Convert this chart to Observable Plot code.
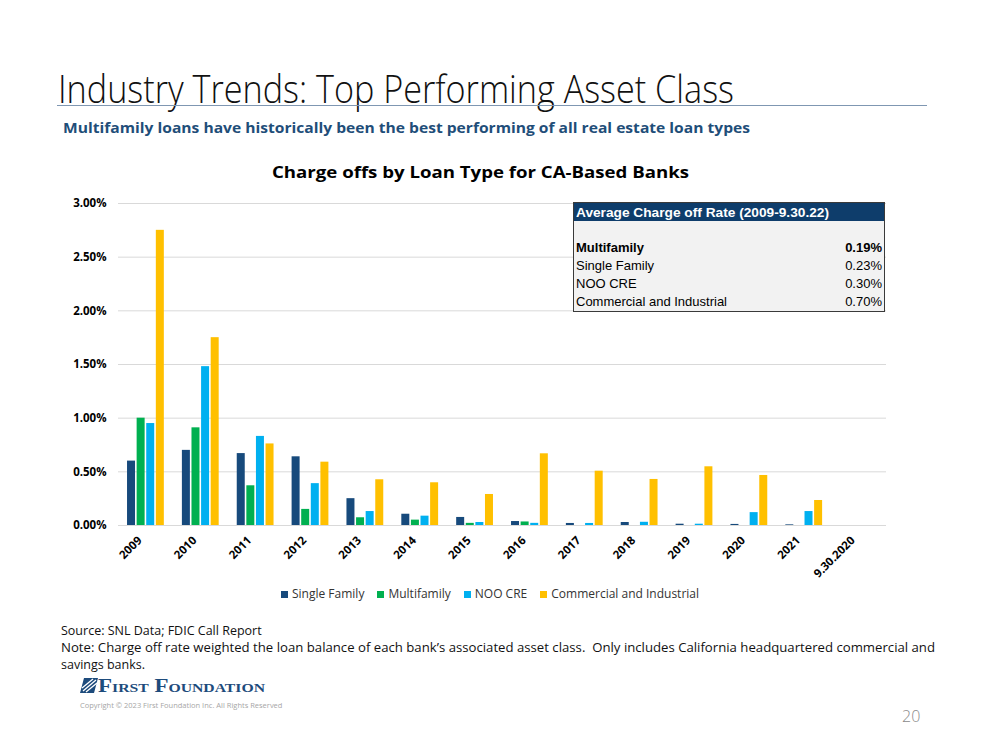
<!DOCTYPE html>
<html><head><meta charset="utf-8">
<script src="https://cdn.jsdelivr.net/npm/d3@7"></script>
<script src="https://cdn.jsdelivr.net/npm/@observablehq/plot@0.6"></script>
<style>
body{margin:0;background:#fff;}
#page{position:relative;width:999px;height:750px;overflow:hidden;font-family:"Open Sans",sans-serif;color:#000;background:#fff;}
.abs{position:absolute;white-space:nowrap;line-height:1;}
#title{left:58px;top:69px;font-size:38px;font-weight:300;color:#111;}
#rule{left:57px;top:105px;width:870px;height:0;border-top:1.5px solid #7f97b2;}
#subtitle{left:63px;top:120px;font-size:15px;font-weight:700;color:#1f4e79;}
#ctitle{left:272px;top:164px;font-size:16.5px;font-weight:700;color:#000;}
#chart{position:absolute;left:0;top:190px;}
#table{position:absolute;left:573px;top:202px;width:310px;height:108px;border:1px solid #3a3a3a;background:#f2f2f2;font-family:"Liberation Sans",Arial,sans-serif;font-size:13px;}
#thead{position:absolute;left:0;top:0;width:310px;height:18px;background:#0e3d6b;}
#thead span{position:absolute;left:2px;top:3px;color:#fff;font-weight:700;font-size:13px;white-space:nowrap;line-height:1;transform-origin:left top;}
.trow{position:absolute;left:0;width:310px;height:18px;}
.trow .l{position:absolute;left:2px;top:1px;white-space:nowrap;}
.trow .v{position:absolute;right:2px;top:1px;white-space:nowrap;}
#legend{position:absolute;left:281px;top:587px;display:flex;font-size:12px;color:#333;line-height:14px;}
#legend .item{display:flex;align-items:center;margin-right:13px;}
#legend .sw{width:7px;height:7px;margin-right:4px;}
.foot{font-size:12.5px;color:#111;}
#logo{left:80px;top:678px;}
#logotext{left:98px;top:676px;font-family:"Liberation Serif","DejaVu Serif",serif;font-weight:700;font-variant:small-caps;font-size:19px;color:#1d4b7c;}
#copy{left:80px;top:702px;font-size:7.5px;color:#a6a6a6;}
#pnum{left:902px;top:708px;font-size:16px;color:#8a8a8a;font-weight:300;}
</style></head>
<body><div id="page">
<div id="title" class="abs">Industry Trends: Top Performing Asset Class</div>
<div id="rule" class="abs"></div>
<div id="subtitle" class="abs">Multifamily loans have historically been the best performing of all real estate loan types</div>
<div id="ctitle" class="abs">Charge offs by Loan Type for CA-Based Banks</div>
<div id="chart"></div>
<div id="table"></div>
<div id="legend"></div>
<div id="src" class="abs foot" style="left:61px;top:625px;">Source: SNL Data; FDIC Call Report</div>
<div id="note1" class="abs foot" style="left:61px;top:642px;">Note: Charge off rate weighted the loan balance of each bank’s associated asset class.&nbsp; Only includes California headquartered commercial and</div>
<div id="note2" class="abs foot" style="left:61px;top:659px;">savings banks.</div>
<svg id="logo" class="abs" width="18" height="15" viewBox="0 0 18 15">
  <polygon points="4,0 18,0 14,15 0,15" fill="#1d4b7c"/>
  <path d="M3,13 L16,2 M2,10 L13,1 M6,14 L17,5" stroke="#fff" stroke-width="1.3"/>
</svg>
<div id="logotext" class="abs">First Foundation</div>
<div id="copy" class="abs">Copyright © 2023 First Foundation Inc. All Rights Reserved</div>
<div id="pnum" class="abs">20</div>
</div>
<script>
// ---- data ----
const years = ["2009","2010","2011","2012","2013","2014","2015","2016","2017","2018","2019","2020","2021","9.30.2020"];
const seriesNames = ["Single Family","Multifamily","NOO CRE","Commercial and Industrial"];
const seriesColors = ["#174a7c","#00b050","#00b0f0","#ffc000"];
const singleFamily = [0.60,0.70,0.67,0.64,0.25,0.105,0.075,0.037,0.019,0.028,0.012,0.010,0.006,0];
const multifamily = [1.00,0.91,0.37,0.15,0.072,0.05,0.02,0.033,0,0,0,0,0,0];
const nooCre = [0.95,1.48,0.83,0.39,0.13,0.087,0.028,0.02,0.019,0.03,0.012,0.12,0.13,0];
const commercialIndustrial = [2.75,1.75,0.76,0.59,0.426,0.398,0.289,0.668,0.506,0.429,0.547,0.466,0.233,0];
const yTicks = [0,0.5,1,1.5,2,2.5,3];
const tableTitle = "Average Charge off Rate (2009-9.30.22)";
const tableLabels = ["Multifamily","Single Family","NOO CRE","Commercial and Industrial"];
const tableValues = ["0.19%","0.23%","0.30%","0.70%"];

const seriesValues = [singleFamily, multifamily, nooCre, commercialIndustrial];
const rows = years.flatMap((yr, i) => seriesNames.map((s, k) => ({year: yr, series: s, value: seriesValues[k][i]})));

const W = 999, mL = 118, mR = 113;
const step = (W - mL - mR) / years.length;
const slot = step * 0.7 / 4;

const chart = Plot.plot({
  width: W, height: 400,
  marginLeft: mL, marginRight: mR, marginTop: 13, marginBottom: 65,
  style: {fontFamily: "Open Sans", fontSize: "11px", overflow: "visible", background: "transparent"},
  x: {domain: years, paddingInner: 0.3, paddingOuter: 0.15, round: false, axis: null},
  y: {domain: [0, 3], axis: null},
  color: {domain: seriesNames, range: seriesColors},
  marks: [
    Plot.ruleY(yTicks, {stroke: "#d9d9d9", strokeWidth: 1}),
    ...seriesNames.map((s, k) => Plot.barY(rows.filter(d => d.series === s), {
      x: "year", y: "value", fill: "series",
      insetLeft: k * slot + 0.8, insetRight: (3 - k) * slot + 0.8
    })),
    Plot.axisY(yTicks, {tickFormat: d => d.toFixed(2) + "%", tickSize: 0, tickPadding: 12, fontWeight: "bold", fontSize: 11.5, label: null}),
    Plot.axisX({tickRotate: -45, tickSize: 0, tickPadding: 13, dx: -6, fontWeight: "bold", fontSize: 11.5, label: null})
  ]
});
document.getElementById("chart").appendChild(chart);

// table
const table = document.getElementById("table");
let h = `<div id="thead"><span id="thtext">${tableTitle}</span></div>`;
tableLabels.forEach((l, i) => {
  const bold = i === 0 ? "font-weight:700;" : "";
  h += `<div class="trow" style="top:${36 + i * 18}px;${bold}"><span class="l">${l}</span><span class="v">${tableValues[i]}</span></div>`;
});
table.innerHTML = h;

// legend
const lg = document.getElementById("legend");
lg.innerHTML = seriesNames.map((s, k) => `<div class="item"><div class="sw" style="background:${seriesColors[k]}"></div><span>${s}</span></div>`).join("");

function fit(id, w) {
  const el = document.getElementById(id);
  el.style.transform = "none";
  const r = el.getBoundingClientRect().width;
  el.style.transformOrigin = "left top";
  el.style.transform = `scaleX(${w / r})`;
}
function fitAll() {
  fit("title", 676); fit("subtitle", 687); fit("ctitle", 417);
  fit("note1", 874); fit("logotext", 167); fit("thtext", 253);
}
fitAll();
if (document.fonts && document.fonts.ready) document.fonts.ready.then(fitAll);
</script>
</body></html>
